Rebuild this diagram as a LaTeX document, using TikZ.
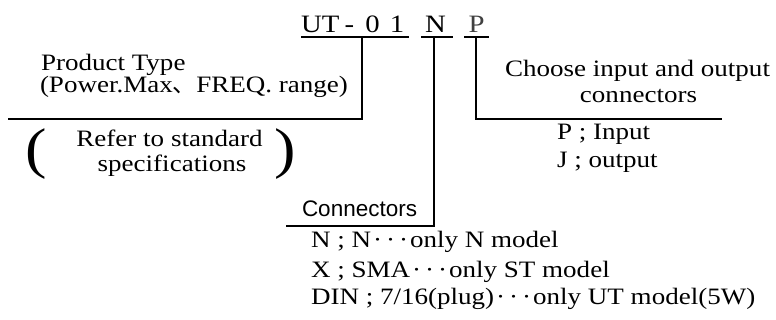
\documentclass[tikz,border=0pt]{standalone}
\usepackage{fontspec}
\setmainfont{Liberation Serif}[FakeStretch=1.15]
\newfontfamily\cjkfont{Noto Sans CJK JP}
\newfontfamily\sansfont{Liberation Sans}
\newcommand{\tridots}{\makebox[13pt]{·}\makebox[13pt]{·}\makebox[13pt]{·}}
\begin{document}
\begin{tikzpicture}[x=1pt,y=-1pt,
  txt/.style={inner sep=0pt,outer sep=0pt,anchor=base west,font=\fontsize{23.5}{26}\selectfont},
  ctxt/.style={txt,anchor=base},
  codechar/.style={inner sep=0pt,outer sep=0pt,anchor=base,font=\fontsize{25}{28}\selectfont},
  uline/.style={line width=2.4pt},
  lead/.style={line width=1.7pt}]
\useasboundingbox (0,0) rectangle (776,320);
% code characters
\node[codechar,anchor=base west] (ut) at (301,33) {UT};
\node[codechar] (dash) at (349.5,33) {-};
\node[codechar] (zero) at (372.5,33) {0};
\node[codechar] (one) at (397,33) {1};
\node[codechar] (cn) at (435.5,33) {N};
\node[codechar,text=black!75] (cp) at (476.5,33) {P};
% underline coordinates
\coordinate (u1a) at (301,37); \coordinate (u1b) at (409,37); \coordinate (u1m) at (362,37);
\coordinate (u2a) at (421,37); \coordinate (u2b) at (453,37); \coordinate (u2m) at (434,37);
\coordinate (u3a) at (464,37); \coordinate (u3b) at (489,37); \coordinate (u3m) at (476,37);
\coordinate (ptend) at (8,119);
\coordinate (cnend) at (286,226);
\coordinate (cpend) at (722,119);
\draw[uline] (u1a) -- (u1b);
\draw[uline] (u2a) -- (u2b);
\draw[uline] (u3a) -- (u3b);
\draw[lead] (u1m) |- (ptend);
\draw[lead] (u2m) |- (cnend);
\draw[lead] (u3m) |- (cpend);
% product type
\node[txt,align=left,font=\fontsize{23.5}{21}\selectfont] (pt) at (40,93) {\hspace{1pt}Product Type\\(Power.Max{\cjkfont 、}FREQ. range)};
\node[ctxt] (rf1) at (169.5,147) {Refer to standard};
\node[ctxt] (rf2) at (172,172) {specifications};
\node[inner sep=0pt,anchor=base,font=\fontsize{56}{60}\selectfont] (lp) at (36,168) {(};
\node[inner sep=0pt,anchor=base,font=\fontsize{56}{60}\selectfont] (rp) at (285,168) {)};
% choose
\node[ctxt] (ch1) at (637.5,77) {Choose input and output};
\node[ctxt] (ch2) at (638.5,103) {connectors};
\node[txt] (pi) at (557,140) {P ; Input};
\node[txt] (jo) at (557,168) {J ; output};
% connectors
\node[txt,font=\sansfont\fontsize{22.5}{26}\selectfont] (con) at (302,217) {Connectors};
\node[txt] (l1) at (311,248) {N ; N\tridots only N model};
\node[txt] (l2) at (311,277) {X ; SMA\tridots only ST model};
\node[txt] (l3) at (311,305) {DIN ; 7/16(plug)\tridots only UT model(5W)};
\end{tikzpicture}
\end{document}
